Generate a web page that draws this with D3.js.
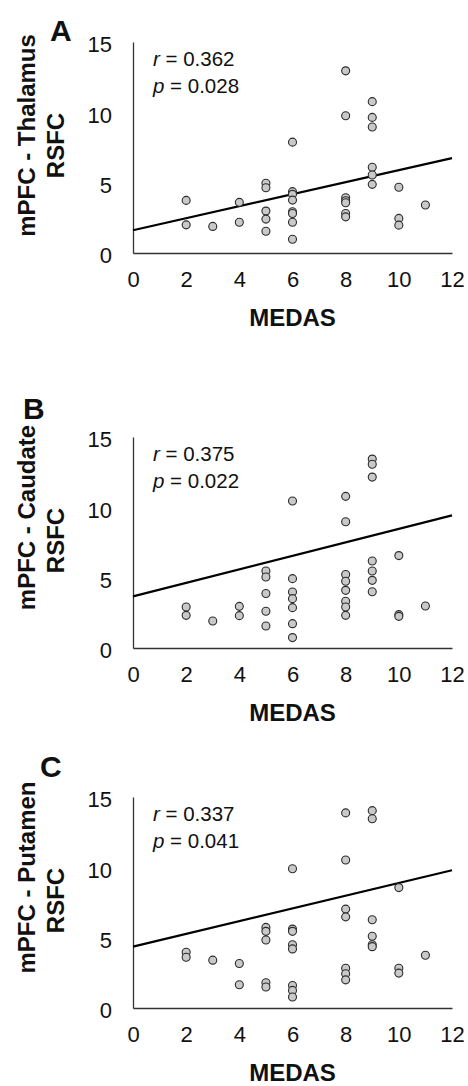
<!DOCTYPE html>
<html>
<head>
<meta charset="utf-8">
<script src="https://d3js.org/d3.v7.min.js"></script>
<style>
  body { margin: 0; background: #fff; }
  text { font-family: "Liberation Sans", Arial, Helvetica, sans-serif; fill: #111; }
</style>
</head>
<body>
<div id="chart_area"></div>
<script>
// MEDAS score (x) and RSFC value (y) per subject
let medasA = [2,2,3,4,4,5,5,5,5,5,6,6,6,6,6,6,6,6,8,8,8,8,8,8,8,9,9,9,9,9,9,10,10,10,11];
let rsfcA  = [3.74,2.0,1.89,3.6,2.19,4.96,4.64,2.98,2.41,1.55,7.88,4.36,4.17,3.76,2.93,2.81,2.19,0.98,
              12.95,9.76,3.93,3.71,3.57,2.81,2.57,10.76,9.64,8.96,6.1,5.55,4.88,4.67,2.46,1.98,3.41];

let medasB = [2,2,3,4,4,5,5,5,5,5,6,6,6,6,6,6,6,8,8,8,8,8,8,8,8,9,9,9,9,9,9,9,10,10,10,11];
let rsfcB  = [2.91,2.32,1.92,2.96,2.3,5.47,5.05,3.87,2.61,1.56,10.45,4.93,3.98,3.51,2.87,1.73,0.74,
              10.78,8.98,5.22,4.74,4.1,3.32,2.91,2.32,13.43,13.06,12.15,6.18,5.47,4.81,4.0,6.57,2.37,2.25,2.99];

let medasC = [2,2,3,4,4,5,5,5,5,5,6,6,6,6,6,6,6,6,8,8,8,8,8,8,8,9,9,9,9,9,9,10,10,10,11];
let rsfcC  = [3.96,3.61,3.4,3.16,1.65,5.73,5.45,4.83,1.79,1.49,9.9,5.61,5.45,4.5,4.2,1.6,1.25,0.78,
              13.87,10.52,7.03,6.48,2.83,2.43,2.0,14.03,13.45,6.27,5.1,4.5,4.36,8.56,2.83,2.48,3.75];

// fitted line (intercept, slope) and stats per panel
let intercepts = [1.62, 3.67, 4.36];
let slopes = [0.427, 0.48, 0.4525];
let rValues = ["0.362", "0.375", "0.337"];
let pValues = ["0.028", "0.022", "0.041"];
let panelLetters = ["A", "B", "C"];
let regions = ["Thalamus", "Caudate", "Putamen"];

let xTicks = [0, 2, 4, 6, 8, 10, 12];
let yTicks = [0, 5, 10, 15];

let width = 468, height = 1086;
let svg = d3.select("#chart_area").append("svg")
    .attr("width", width)
    .attr("height", height);

// layout for each panel (top of the y axis, letter position, label offset)
let panels = [
    {x: medasA, y: rsfcA, top: 42,  letterX: 50, letterY: 41,  lab1Shift: -12},
    {x: medasB, y: rsfcB, top: 437, letterX: 23, letterY: 419, lab1Shift: -25},
    {x: medasC, y: rsfcC, top: 797, letterX: 40, letterY: 777, lab1Shift: -25}
];

let plotLeft = 133, plotRight = 452, plotH = 211;

let xScale = d3.scaleLinear().domain([0, 12]).range([plotLeft, plotRight]);

panels.forEach((p, i) => {
    let yScale = d3.scaleLinear().domain([0, 15]).range([p.top + plotH, p.top]);
    let g = svg.append("g");
    let bottom = p.top + plotH;

    // axes
    let xAxis = g.append("g")
        .attr("transform", `translate(0,${bottom})`)
        .call(d3.axisBottom(xScale).tickValues(xTicks).tickSize(0).tickPadding(18));
    xAxis.select(".domain").attr("stroke", "#333").attr("stroke-width", 1.3);
    xAxis.selectAll("text").style("font-size", "22px").attr("fill", "#111");

    let yAxis = g.append("g")
        .attr("transform", `translate(${plotLeft},0)`)
        .call(d3.axisLeft(yScale).tickValues(yTicks).tickSize(0).tickPadding(21));
    yAxis.select(".domain").attr("stroke", "#333").attr("stroke-width", 1.3);
    yAxis.selectAll("text").style("font-size", "22px").attr("fill", "#111").attr("dy", "0.45em");

    // regression line
    g.append("line")
        .attr("x1", xScale(0))
        .attr("y1", yScale(intercepts[i]))
        .attr("x2", xScale(12))
        .attr("y2", yScale(intercepts[i] + slopes[i] * 12))
        .attr("stroke", "#000")
        .attr("stroke-width", 2.2);

    // points
    g.selectAll("circle")
        .data(p.x.map((d, j) => ({mx: d, val: p.y[j]})))
        .join("circle")
        .attr("cx", d => xScale(d.mx))
        .attr("cy", d => yScale(d.val))
        .attr("r", 4)
        .attr("fill", "#c9c9c9")
        .attr("stroke", "#2a2a2a")
        .attr("stroke-width", 1.1);

    // stats text
    let stat1 = g.append("text")
        .attr("x", 153).attr("y", p.top + 24)
        .style("font-size", "20.5px");
    stat1.append("tspan").style("font-style", "italic").text("r");
    stat1.append("tspan").text(" = " + rValues[i]);
    let stat2 = g.append("text")
        .attr("x", 153).attr("y", p.top + 51)
        .style("font-size", "20.5px");
    stat2.append("tspan").style("font-style", "italic").text("p");
    stat2.append("tspan").text(" = " + pValues[i]);

    // x title
    g.append("text")
        .attr("x", (plotLeft + plotRight) / 2)
        .attr("y", bottom + 73)
        .attr("text-anchor", "middle")
        .style("font-size", "24px")
        .style("font-weight", "bold")
        .text("MEDAS");

    // y title, two lines
    let midY = p.top + plotH / 2;
    g.append("text")
        .attr("transform", `translate(35,${midY + p.lab1Shift}) rotate(-90)`)
        .attr("text-anchor", "middle")
        .style("font-size", "24px")
        .style("font-weight", "bold")
        .text("mPFC - " + regions[i]);
    g.append("text")
        .attr("transform", `translate(64,${midY - 2}) rotate(-90)`)
        .attr("text-anchor", "middle")
        .style("font-size", "24px")
        .style("font-weight", "bold")
        .text("RSFC");

    // panel letter
    g.append("text")
        .attr("x", p.letterX)
        .attr("y", p.letterY)
        .style("font-size", "30px")
        .style("font-weight", "bold")
        .text(panelLetters[i]);
});
</script>
</body>
</html>
